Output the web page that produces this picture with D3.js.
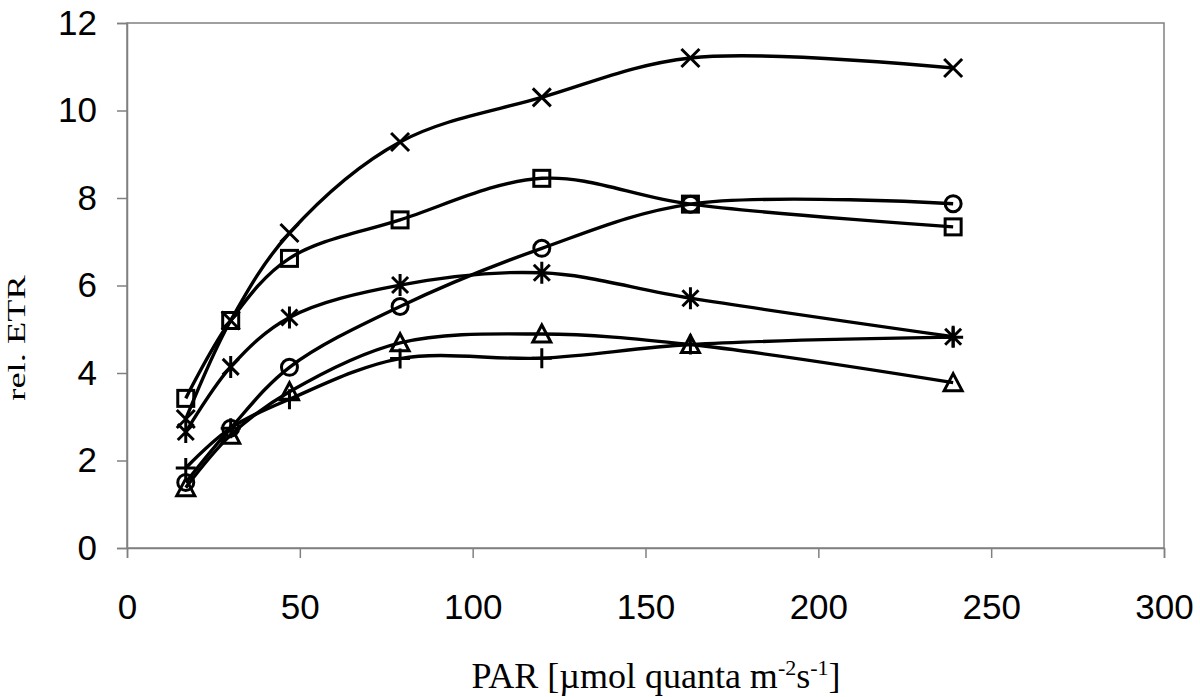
<!DOCTYPE html>
<html><head><meta charset="utf-8">
<script src="https://cdn.jsdelivr.net/npm/d3@7"></script>
<style>
html,body{margin:0;padding:0;background:#fff;}
svg{display:block;}
</style></head>
<body>
<svg id="chart" width="1200" height="697"></svg>
<script>
// ---- data ----
const par = [17, 30, 47, 79, 120, 163, 239];
const seriesCross    = [2.95, 5.2, 7.2, 9.28, 10.3, 11.2, 10.97];
const seriesSquare   = [3.42, 5.2, 6.62, 7.5, 8.45, 7.86, 7.34];
const seriesCircle   = [1.5, 2.74, 4.13, 5.52, 6.85, 7.86, 7.87];
const seriesStar     = [2.65, 4.14, 5.27, 6.01, 6.29, 5.71, 4.83];
const seriesTriangle = [1.38, 2.58, 3.57, 4.69, 4.89, 4.65, 3.78];
const seriesPlus     = [1.83, 2.74, 3.4, 4.33, 4.34, 4.65, 4.82];
const xTicks = [0, 50, 100, 150, 200, 250, 300];
const yTicks = [0, 2, 4, 6, 8, 10, 12];

const series = [
  {name: "cross", values: seriesCross},
  {name: "square", values: seriesSquare},
  {name: "circle", values: seriesCircle},
  {name: "star", values: seriesStar},
  {name: "triangle", values: seriesTriangle},
  {name: "plus", values: seriesPlus}
];

(function () {
const svg = d3.select("#chart");
const pL = 127, pR = 1164, pT = 23, pB = 548;
const x = d3.scaleLinear().domain([0, 300]).range([pL, pR]);
const y = d3.scaleLinear().domain([0, 12]).range([pB, pT]);
const grey = "#808080";

// plot border
svg.append("rect").attr("x", pL).attr("y", pT)
  .attr("width", pR - pL).attr("height", pB - pT)
  .attr("fill", "none").attr("stroke", grey).attr("stroke-width", 1.5);

// axes
const xAxis = svg.append("g").attr("transform", `translate(0,${pB})`)
  .call(d3.axisBottom(x).tickValues(xTicks).tickSize(10).tickPadding(36).tickFormat(d3.format("d")));
const yAxis = svg.append("g").attr("transform", `translate(${pL},0)`)
  .call(d3.axisLeft(y).tickValues(yTicks).tickSize(10).tickPadding(20).tickFormat(d3.format("d")));
[xAxis, yAxis].forEach(a => {
  a.select(".domain").attr("stroke", grey).attr("stroke-width", 1.5);
  a.selectAll(".tick line").attr("stroke", grey).attr("stroke-width", 1.5);
  a.selectAll(".tick text").attr("fill", "#000")
    .style("font-family", "Arial, 'Liberation Sans', sans-serif").style("font-size", "35px");
});
xAxis.selectAll(".tick text").attr("dy", "0.71em");

// axis titles
const xt = svg.append("text").attr("x", 656).attr("y", 688).attr("text-anchor", "middle")
  .style("font-family", "'Times New Roman', 'Liberation Serif', serif").style("font-size", "36px");
xt.append("tspan").text("PAR [\u00b5mol quanta m");
xt.append("tspan").attr("dy", "-13").style("font-size", "22px").text("-2");
xt.append("tspan").attr("dy", "13").text("s");
xt.append("tspan").attr("dy", "-13").style("font-size", "22px").text("-1");
xt.append("tspan").attr("dy", "13").text("]");

svg.append("text").attr("transform", `translate(25,338) rotate(-90) scale(1.4,1)`)
  .attr("text-anchor", "middle")
  .style("font-family", "'Times New Roman', 'Liberation Serif', serif").style("font-size", "26px")
  .text("rel. ETR");

// lines
const line = d3.line().x((d, i) => x(par[i])).y(d => y(d)).curve(d3.curveCatmullRom.alpha(0.5));
const g = svg.append("g");
series.forEach(s => {
  g.append("path").attr("d", line(s.values)).attr("fill", "none")
    .attr("stroke", "#000").attr("stroke-width", 3.4).attr("stroke-linejoin", "round");
});

// markers
function marker(sel, type) {
  const r = 8;
  if (type === "square") {
    sel.append("rect").attr("x", -r).attr("y", -r).attr("width", 2 * r).attr("height", 2 * r);
  } else if (type === "circle") {
    sel.append("circle").attr("r", r);
  } else if (type === "triangle") {
    sel.append("path").attr("d", `M0,${-r - 1}L${r + 1},${r}L${-r - 1},${r}Z`);
  } else if (type === "cross") {
    sel.append("path").attr("d", `M${-r - 1},${-r - 1}L${r + 1},${r + 1}M${r + 1},${-r - 1}L${-r - 1},${r + 1}`);
  } else if (type === "star") {
    sel.append("path").attr("d", `M${-r},${-r}L${r},${r}M${r},${-r}L${-r},${r}M0,${-r - 3}L0,${r + 3}`);
  } else if (type === "plus") {
    sel.append("path").attr("d", `M${-r - 2},0L${r + 2},0M0,${-r - 2}L0,${r + 2}`);
  }
}
series.forEach(s => {
  s.values.forEach((v, i) => {
    const m = g.append("g").attr("transform", `translate(${x(par[i])},${y(v)})`)
      .attr("fill", "none").attr("stroke", "#000").attr("stroke-width", 3);
    marker(m, s.name);
  });
});
})();
</script>
</body></html>
